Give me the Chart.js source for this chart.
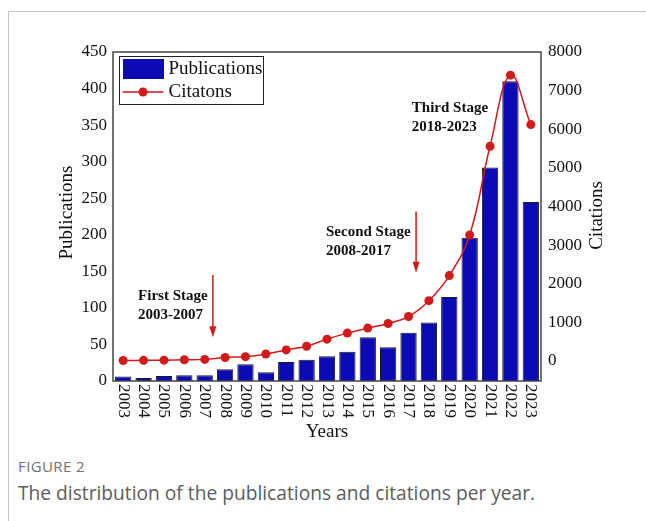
<!DOCTYPE html>
<html lang="en">
<head>
  <meta charset="UTF-8">
  <title>Publications and citations per year</title>
  <script src="https://cdn.jsdelivr.net/npm/chart.js"></script>
  <style>
    body {
      margin: 0;
      width: 646px;
      height: 521px;
      overflow: hidden;
      position: relative;
      background: #fff;
      font-family: "Open Sans", sans-serif;
    }
    .frame {
      position: absolute;
      left: 8px;
      top: 11px;
      right: 0;
      bottom: 0;
      border-left: 1px solid #c6c6c6;
      border-top: 1px solid #c6c6c6;
    }
    .chart-box {
      position: absolute;
      left: 0;
      top: 0;
      width: 646px;
      height: 445px;
    }
    .fig-label {
      position: absolute;
      left: 18px;
      top: 456px;
      font-size: 15px;
      color: #707070;
      letter-spacing: 0.4px;
    }
    .fig-caption {
      position: absolute;
      left: 18px;
      top: 479px;
      font-size: 19.2px;
      color: #5c5c5c;
    }
  </style>
</head>
<body>
  <div class="frame"></div>
  <div class="chart-box"><canvas id="pubChart"></canvas></div>
  <div class="fig-label">FIGURE 2</div>
  <div class="fig-caption">The distribution of the publications and citations per year.</div>

  <script>
    // Yearly counts
    const years = ['2003', '2004', '2005', '2006', '2007', '2008', '2009', '2010', '2011', '2012', '2013',
                   '2014', '2015', '2016', '2017', '2018', '2019', '2020', '2021', '2022', '2023'];
    const publications = [6, 4, 7, 8, 8, 16, 23, 12, 26, 29, 34, 40, 60, 46, 66, 80, 115, 196, 292, 410, 245];
    const citations = [10, 15, 20, 30, 40, 90, 110, 180, 285, 380, 564, 720, 850, 970, 1150, 1560, 2210,
                       3260, 5560, 7400, 6120];
    const citationTicks = [0, 1000, 2000, 3000, 4000, 5000, 6000, 7000, 8000];

    const SERIF = '"Liberation Serif", "Times New Roman", serif';
    const RED = '#d21a1a';
    const BLUE = '#0b0bb6';

    // stage notes: x in category units, y in publication units
    const stageNotes = [
      { name: 'First Stage', span: '2003-2007', tx: 0.73, ty: 116, arrow: { x: 4.4, from: 145, to: 60 } },
      { name: 'Second Stage', span: '2008-2017', tx: 9.95, ty: 204, arrow: { x: 14.37, from: 232, to: 148 } },
      { name: 'Third Stage', span: '2018-2023', tx: 14.16, ty: 373 }
    ];

    function drawArrow(ctx, x, y1, y2) {
      ctx.save();
      ctx.strokeStyle = RED;
      ctx.fillStyle = RED;
      ctx.lineWidth = 1.5;
      ctx.beginPath();
      ctx.moveTo(x, y1);
      ctx.lineTo(x, y2 - 9);
      ctx.stroke();
      ctx.beginPath();
      ctx.moveTo(x - 3.5, y2 - 11);
      ctx.lineTo(x + 3.5, y2 - 11);
      ctx.lineTo(x, y2);
      ctx.closePath();
      ctx.fill();
      ctx.restore();
    }

    const decorations = {
      id: 'decorations',
      afterDraw(chart) {
        const ctx = chart.ctx;
        const area = chart.chartArea;
        const xs = chart.scales.x;
        const ys = chart.scales.y;

        ctx.save();
        // plot frame
        ctx.strokeStyle = '#444';
        ctx.lineWidth = 1.5;
        ctx.strokeRect(area.left, area.top, area.right - area.left, area.bottom - area.top);

        // vertical year labels, reading downward
        ctx.fillStyle = '#111';
        ctx.font = '17px ' + SERIF;
        ctx.textAlign = 'left';
        ctx.textBaseline = 'middle';
        years.forEach((yr, i) => {
          ctx.save();
          ctx.translate(xs.getPixelForValue(i), area.bottom + 3);
          ctx.rotate(Math.PI / 2);
          ctx.fillText(yr, 0, 0);
          ctx.restore();
        });

        // axis titles
        ctx.font = '19px ' + SERIF;
        ctx.textAlign = 'center';
        ctx.fillText('Years', (area.left + area.right) / 2, 432);
        const midY = (area.top + area.bottom) / 2;
        ctx.save();
        ctx.translate(67, midY - 4);
        ctx.rotate(-Math.PI / 2);
        ctx.fillText('Publications', 0, 0);
        ctx.restore();
        ctx.save();
        ctx.translate(597, midY - 1);
        ctx.rotate(-Math.PI / 2);
        ctx.fillText('Citations', 0, 0);
        ctx.restore();

        // legend box
        const lx = area.left + 6.5, ly = area.top + 4.5;
        ctx.fillStyle = '#fff';
        ctx.fillRect(lx, ly, 144, 48);
        ctx.strokeStyle = '#222';
        ctx.lineWidth = 1;
        ctx.strokeRect(lx, ly, 144, 48);
        const barSet = chart.data.datasets[1];
        const lineSet = chart.data.datasets[0];
        ctx.fillStyle = BLUE;
        ctx.fillRect(lx + 3.5, ly + 2.5, 41, 20);
        ctx.strokeStyle = RED;
        ctx.lineWidth = 1.5;
        ctx.beginPath();
        ctx.moveTo(lx + 3, ly + 35.5);
        ctx.lineTo(lx + 44, ly + 35.5);
        ctx.stroke();
        ctx.fillStyle = RED;
        ctx.beginPath();
        ctx.arc(lx + 23.5, ly + 35.5, 4.5, 0, Math.PI * 2);
        ctx.fill();
        ctx.fillStyle = '#111';
        ctx.font = '19px ' + SERIF;
        ctx.textAlign = 'left';
        ctx.fillText(barSet.label, lx + 49, ly + 13);
        ctx.fillText(lineSet.label, lx + 49, ly + 36);

        // stage notes
        ctx.font = 'bold 15px ' + SERIF;
        stageNotes.forEach(s => {
          const x = xs.getPixelForValue(s.tx);
          const y = ys.getPixelForValue(s.ty);
          ctx.fillStyle = '#111';
          ctx.fillText(s.name, x, y);
          ctx.fillText(s.span, x, y + 19);
          if (s.arrow) {
            drawArrow(ctx, xs.getPixelForValue(s.arrow.x),
                      ys.getPixelForValue(s.arrow.from), ys.getPixelForValue(s.arrow.to));
          }
        });
        ctx.restore();
      }
    };

    const tickFont = { family: SERIF, size: 17 };

    new Chart(document.getElementById('pubChart'), {
      data: {
        labels: years,
        datasets: [
          {
            type: 'line',
            label: 'Citatons',
            data: citations,
            yAxisID: 'y1',
            borderColor: RED,
            backgroundColor: RED,
            borderWidth: 1.5,
            pointRadius: 4.5,
            pointBackgroundColor: RED,
            pointBorderWidth: 0,
            tension: 0.4,
            order: 0
          },
          {
            type: 'bar',
            label: 'Publications',
            data: publications,
            yAxisID: 'y',
            backgroundColor: BLUE,
            borderColor: '#1a1a1a',
            borderWidth: 1,
            categoryPercentage: 1,
            barPercentage: 0.8,
            order: 1
          }
        ]
      },
      options: {
        responsive: true,
        maintainAspectRatio: false,
        animation: false,
        layout: { padding: { top: 52, left: 0, right: 0, bottom: 0 } },
        plugins: {
          legend: { display: false },
          tooltip: { enabled: false }
        },
        scales: {
          x: {
            grid: { display: false },
            border: { display: false },
            ticks: { display: false },
            afterFit(scale) { scale.height = 64; }
          },
          y: {
            position: 'left',
            min: 0,
            max: 450,
            grid: { display: false, drawTicks: false },
            border: { display: false },
            ticks: { stepSize: 50, color: '#111', font: tickFont, padding: 6 },
            afterFit(scale) { scale.width = 113; }
          },
          y1: {
            position: 'right',
            min: -520,
            max: 8000,
            grid: { display: false, drawTicks: false },
            border: { display: false },
            ticks: { color: '#111', font: tickFont, padding: 7, callback: v => String(v) },
            afterBuildTicks(scale) { scale.ticks = citationTicks.map(v => ({ value: v })); },
            afterFit(scale) { scale.width = 105; }
          }
        }
      },
      plugins: [decorations]
    });
  </script>
</body>
</html>
